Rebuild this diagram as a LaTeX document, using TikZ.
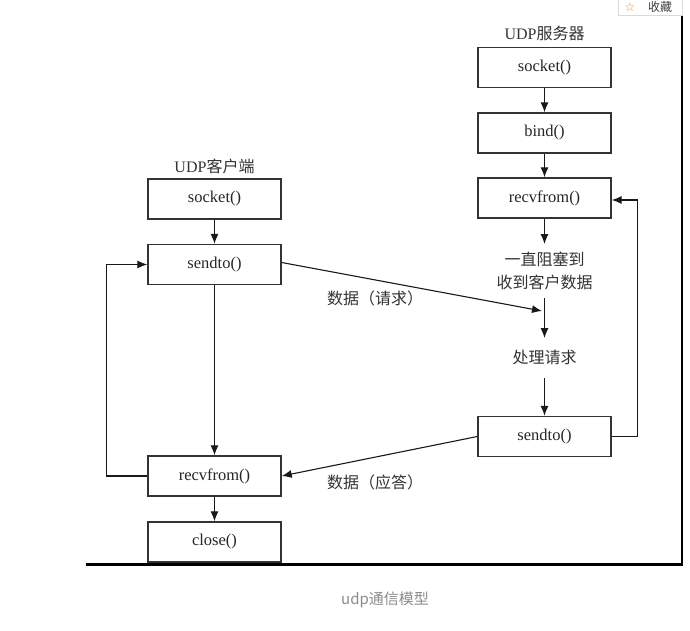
\documentclass[tikz,border=0pt]{standalone}
\usepackage{fontspec}
\setmainfont{Liberation Serif}
\newfontfamily\cjk{Noto Sans CJK SC}
\newfontfamily\dejavu{DejaVu Sans}
\usetikzlibrary{arrows.meta}
\begin{document}
\begin{tikzpicture}[x=1pt,y=-1pt,
  box/.style={draw=black!80,line width=1.4pt,minimum width=133pt,minimum height=40pt,inner sep=0pt,font=\fontsize{16.5}{19}\selectfont,text=black!85},
  lab/.style={font=\fontsize{16}{23}\selectfont,text=black!80,inner sep=0pt},
  arr/.style={draw=black!90,line width=1.1pt,-{Latex[length=10pt,width=8pt]}},
  frame/.style={draw=black,line width=2.5pt}]
\useasboundingbox (0,0) rectangle (690,630);
\fill[white] (0,0) rectangle (690,630);
% client column
\node[lab] (ct) at (214.5,166) {UDP\cjk 客户端};
\node[box] (cs) at (214.5,199) {socket()};
\node[box] (csend) at (214.5,264.5) {sendto()};
\node[box] (crecv) at (214.5,476) {recvfrom()};
\node[box] (cclose) at (214.5,542) {close()};
% server column
\node[lab] (st) at (544.5,33) {UDP\cjk 服务器};
\node[box] (ss) at (544.5,67.5) {socket()};
\node[box] (sb) at (544.5,133) {bind()};
\node[box] (sr) at (544.5,198) {recvfrom()};
\node[lab,align=center] (blk) at (544.5,270.5) {\cjk 一直阻塞到\\\cjk 收到客户数据};
\node[lab] (proc) at (544.5,357) {\cjk 处理请求};
\node[box] (ssend) at (544.5,436.5) {sendto()};
\coordinate (a1) at (544.5,244);
\coordinate (b0) at (544.5,298);
\coordinate (b1) at (544.5,338);
\coordinate (c0) at (544.5,378);
\coordinate (rq) at (542,311);
% client arrows
\draw[arr] (cs) -- (csend);
\draw[arr] (csend) -- (crecv);
\draw[arr] (crecv) -- (cclose);
\draw[arr] (crecv.west) -- ++(-41,0) |- (csend.west);
% server arrows
\draw[arr] (ss) -- (sb);
\draw[arr] (sb) -- (sr);
\draw[arr] (sr) -- (a1);
\draw[arr] (b0) -- (b1);
\draw[arr] (c0) -- (ssend);
\draw[arr] (ssend.east) -- ++(26,0) |- ([yshift=-2pt]sr.east);
% data exchange
\draw[arr] ([yshift=2pt]csend.east) -- (rq);
\node[lab] (lreq) at (375,298) {\cjk 数据（请求）};
\draw[arr] (ssend.west) -- (crecv.east);
\node[lab] (lrep) at (375,482) {\cjk 数据（应答）};
% frame
\draw[frame] (86,564.5) -- (682,564.5) -- (682,16);
% caption
\node[font=\cjk\fontsize{15}{18}\selectfont,text=black!45] (cap) at (385,600) {udp通信模型};
% web button
\draw[black!15,fill=white] (618,-2) rectangle (682,15.5);
\node[text=orange,font=\dejavu\fontsize{12}{12}\selectfont,inner sep=0pt] (star) at (630,7) {☆};
\node[text=black!75,font=\cjk\fontsize{12}{12}\selectfont,inner sep=0pt] (fav) at (660,7) {收藏};
\end{tikzpicture}
\end{document}
